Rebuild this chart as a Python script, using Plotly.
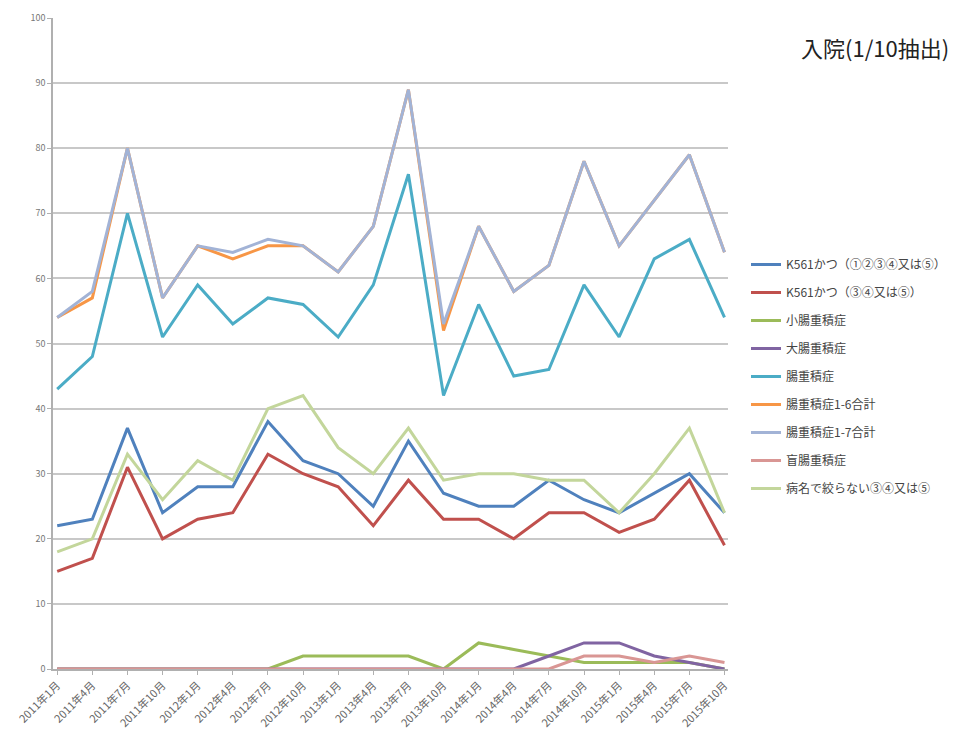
import plotly.graph_objects as go

# 四半期ラベル (2011年1月〜2015年10月)
months = [
    "2011年1月", "2011年4月", "2011年7月", "2011年10月",
    "2012年1月", "2012年4月", "2012年7月", "2012年10月",
    "2013年1月", "2013年4月", "2013年7月", "2013年10月",
    "2014年1月", "2014年4月", "2014年7月", "2014年10月",
    "2015年1月", "2015年4月", "2015年7月", "2015年10月",
]

k561_all = [22, 23, 37, 24, 28, 28, 38, 32, 30, 25, 35, 27, 25, 25, 29, 26, 24, 27, 30, 24]
k561_345 = [15, 17, 31, 20, 23, 24, 33, 30, 28, 22, 29, 23, 23, 20, 24, 24, 21, 23, 29, 19]
small_int = [0, 0, 0, 0, 0, 0, 0, 2, 2, 2, 2, 0, 4, 3, 2, 1, 1, 1, 1, 0]
large_int = [0, 0, 0, 0, 0, 0, 0, 0, 0, 0, 0, 0, 0, 0, 2, 4, 4, 2, 1, 0]
intus = [43, 48, 70, 51, 59, 53, 57, 56, 51, 59, 76, 42, 56, 45, 46, 59, 51, 63, 66, 54]
sum_1_6 = [54, 57, 80, 57, 65, 63, 65, 65, 61, 68, 89, 52, 68, 58, 62, 78, 65, 72, 79, 64]
sum_1_7 = [54, 58, 80, 57, 65, 64, 66, 65, 61, 68, 89, 53, 68, 58, 62, 78, 65, 72, 79, 64]
cecal_int = [0, 0, 0, 0, 0, 0, 0, 0, 0, 0, 0, 0, 0, 0, 0, 2, 2, 1, 2, 1]
no_dx = [18, 20, 33, 26, 32, 29, 40, 42, 34, 30, 37, 29, 30, 30, 29, 29, 24, 30, 37, 24]

series = [
    ("K561かつ（①②③④又は⑤）", k561_all, "#4F81BD"),
    ("K561かつ（③④又は⑤）", k561_345, "#C0504D"),
    ("小腸重積症", small_int, "#9BBB59"),
    ("大腸重積症", large_int, "#8064A2"),
    ("腸重積症", intus, "#4BACC6"),
    ("腸重積症1-6合計", sum_1_6, "#F79646"),
    ("腸重積症1-7合計", sum_1_7, "#A2B3D6"),
    ("盲腸重積症", cecal_int, "#D99694"),
    ("病名で絞らない③④又は⑤", no_dx, "#C3D69B"),
]

FONT = "Noto Sans CJK JP, Noto Sans, sans-serif"

fig = go.Figure()
for i, (name, vals, color) in enumerate(series):
    fig.add_trace(go.Scatter(
        x=list(range(len(months))), y=vals, name=name, mode="lines",
        line=dict(color=color, width=3),
        legendgroup=f"g{i}",
    ))

fig.update_layout(
    width=978, height=738,
    margin=dict(l=53, r=250, t=18, b=69, autoexpand=False),
    paper_bgcolor="white", plot_bgcolor="white",
    font=dict(family=FONT, color="#555555"),
    showlegend=True,
    legend=dict(
        x=(746 - 53) / 675, y=(669 - 250) / 651, xanchor="left", yanchor="top",
        font=dict(size=12, color="#444444", family=FONT),
        tracegroupgap=9, itemwidth=30,
        bgcolor="rgba(0,0,0,0)",
    ),
    xaxis=dict(
        tickmode="array", tickvals=list(range(len(months))), ticktext=months,
        tickangle=-45, tickfont=dict(size=11, color="#666666"),
        range=[-0.12, 19.1], automargin=False,
        showgrid=False, zeroline=False,
        showline=True, linecolor="#B0B0B0", linewidth=1.5,
        ticks="outside", ticklen=4, tickcolor="#B0B0B0",
    ),
    yaxis=dict(
        range=[0, 100], dtick=10, automargin=False,
        tickfont=dict(size=9, color="#777777"),
        showgrid=True, gridcolor="#C8C8C8", gridwidth=1.5,
        zeroline=False,
        showline=True, linecolor="#B0B0B0", linewidth=1.5,
        ticks="outside", ticklen=4, tickcolor="#B0B0B0",
    ),
    annotations=[dict(
        text="入院(1/10抽出)",
        x=(875 - 53) / 675, y=(669 - 47) / 651, xref="paper", yref="paper",
        xanchor="center", yanchor="middle",
        showarrow=False, font=dict(size=22, color="#222222", family=FONT),
    )],
)

fig.write_html("out.html")
